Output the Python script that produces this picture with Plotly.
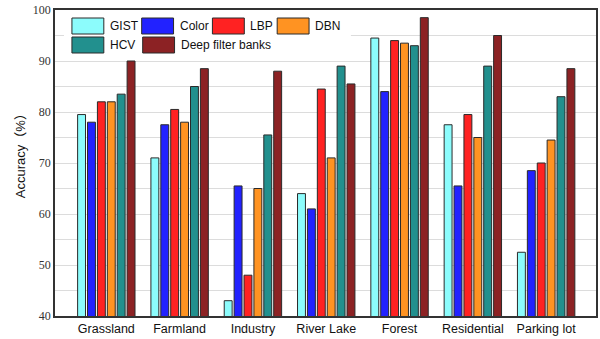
import plotly.graph_objects as go

categories = ["Grassland", "Farmland", "Industry", "River Lake", "Forest", "Residential", "Parking lot"]
series_names = ["GIST", "Color", "LBP", "DBN", "HCV", "Deep filter banks"]
gist = [79.5, 71, 43, 64, 94.5, 77.5, 52.5]
color_vals = [78, 77.5, 65.5, 61, 84, 65.5, 68.5]
lbp = [82, 80.5, 48, 84.5, 94, 79.5, 70]
dbn = [82, 78, 65, 71, 93.5, 75, 74.5]
hcv = [83.5, 85, 75.5, 89, 93, 89, 83]
dfb = [90, 88.5, 88, 85.5, 98.5, 95, 88.5]
series_values = [gist, color_vals, lbp, dbn, hcv, dfb]
colors = ["#8cfcfc", "#2222ff", "#ff2222", "#ff9322", "#22908e", "#8c2224"]
y_ticks = [40, 50, 60, 70, 80, 90, 100]
y_title = "Accuracy（%）"

W, H = 600, 339
ML, MR, MT, MB = 55, 2, 10, 23

fig = go.Figure()
for name, vals, c in zip(series_names, series_values, colors):
    fig.add_trace(go.Bar(
        x=categories, y=vals, name=name, showlegend=False,
        marker=dict(color=c, line=dict(color="#2a2a2a", width=1)),
    ))

pw = W - ML - MR
ph = H - MT - MB
def px2paper(x, y):
    return (x - ML) / pw, 1 - (y - MT) / ph

shapes = []
annotations = []
# legend background
x0, y0 = px2paper(64, 12)
x1, y1 = px2paper(352, 57)
shapes.append(dict(type="rect", xref="paper", yref="paper", x0=x0, y0=y1, x1=x1, y1=y0,
                   fillcolor="white", line=dict(width=0), layer="above"))
legend_pos = [(72, 18), (142, 18), (213, 18), (278, 18), (72, 37), (143, 37)]
for (lx, ly), name, c in zip(legend_pos, series_names, colors):
    a0, b0 = px2paper(lx, ly)
    a1, b1 = px2paper(lx + 32, ly + 16)
    shapes.append(dict(type="rect", xref="paper", yref="paper", x0=a0, y0=b1, x1=a1, y1=b0,
                       fillcolor=c, line=dict(color="#2a2a2a", width=1), layer="above"))
    tx, ty = px2paper(lx + 36, ly + 8)
    annotations.append(dict(xref="paper", yref="paper", x=tx, y=ty, text=name, showarrow=False,
                            xanchor="left", yanchor="middle",
                            font=dict(family="Liberation Sans, Arial", size=12, color="#111")))

# y-axis title
tx, ty = px2paper(20, 153)
annotations.append(dict(xref="paper", yref="paper", x=tx, y=ty, text=y_title, showarrow=False,
                        textangle=-90, xanchor="center", yanchor="middle",
                        font=dict(family="Liberation Sans, Arial, Noto Sans CJK SC", size=13, color="#111")))

fig.update_layout(
    width=W, height=H,
    margin=dict(l=ML, r=MR, t=MT, b=MB),
    paper_bgcolor="white", plot_bgcolor="white",
    barmode="group", bargap=0.19, bargroupgap=0.2,
    shapes=shapes, annotations=annotations,
    xaxis=dict(range=[-0.7, 6.68], showline=True, linecolor="#333", linewidth=1.5, mirror=True,
               ticks="", tickfont=dict(family="Liberation Sans, Arial", size=12.5, color="#111"),
               showgrid=False),
    yaxis=dict(range=[40, 100], tickvals=y_ticks, showline=True, linecolor="#333", linewidth=1.5,
               mirror=True, ticks="", showgrid=True, gridcolor="#dcdcdc", gridwidth=1,
               minor=dict(dtick=5, showgrid=True, gridcolor="#dcdcdc", gridwidth=1),
               tickfont=dict(family="Liberation Serif, Times New Roman", size=12, color="#333")),
)

fig.write_html("out.html", config={"displayModeBar": False},
               post_script="document.body.style.margin='0';document.body.style.overflow='hidden';")
